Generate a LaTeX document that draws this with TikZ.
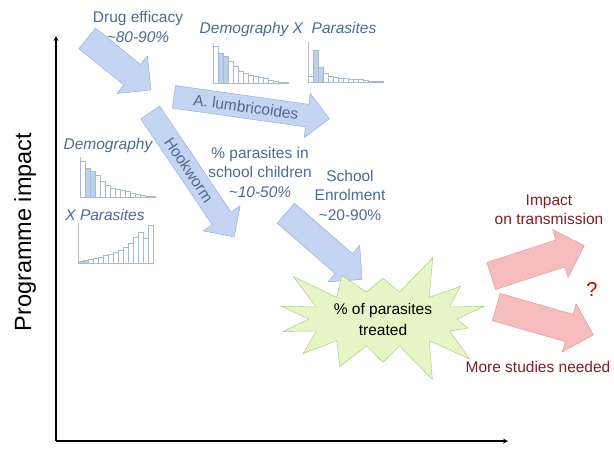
\documentclass[tikz,border=0pt]{standalone}
\usepackage{fontspec}
\setmainfont{Liberation Sans}
\usepackage{tikz}
\usetikzlibrary{arrows}
\usetikzlibrary{shapes.arrows, shapes.symbols}

\definecolor{slate}{HTML}{4E6A92}
\definecolor{arrowfill}{HTML}{C3D5F3}
\definecolor{arrowline}{HTML}{8BA6CF}
\definecolor{pinkfill}{HTML}{F7BCBE}
\definecolor{pinkline}{HTML}{D99597}
\definecolor{darkred}{HTML}{7E1F22}
\definecolor{starfill}{HTML}{E5F5C6}
\definecolor{starline}{HTML}{A5C46E}
\definecolor{barblue}{HTML}{BCD0EC}
\definecolor{barline}{HTML}{A9B9D2}

\tikzset{
  blockarrow/.style={single arrow, draw=arrowline, fill=arrowfill, inner ysep=5.5pt,
    single arrow head extend=11pt, font=\fontsize{15.5}{19}\selectfont, text=slate},
  pinkarrow/.style={single arrow, draw=pinkline, fill=pinkfill, inner ysep=14pt,
    single arrow head extend=11pt},
  bluetext/.style={text=slate, font=\fontsize{15.5}{19.5}\selectfont, align=center},
  redtext/.style={text=darkred, font=\fontsize{15.5}{19}\selectfont, align=center},
  histbar/.style={draw=barline, line width=0.5pt},
  histaxis/.style={draw=black!25, line width=0.5pt}
}

\newcommand{\histo}[2]{%
  \begin{scope}[shift={#1}]
    \draw[histaxis] (0,-40) -- (0,0) -- (76,0);
    \foreach \h/\c [count=\i from 0] in {#2}
      \draw[histbar, fill=\c] (\i*5,0) rectangle ++(5,-\h);
  \end{scope}}

\begin{document}
\begin{tikzpicture}[x=1pt,y=-1pt,>=stealth]
\useasboundingbox (0,0) rectangle (614,448);

% axes
\coordinate (origin) at (56,441);
\coordinate (ytop) at (56,36);
\coordinate (xend) at (508,441);
\draw[->, line width=1.2pt] (origin) -- (ytop);
\draw[->, line width=1.2pt] (origin) -- (xend);
\node[rotate=90, font=\fontsize{23.5}{28}\selectfont] (ylabel) at (25,232) {Programme impact};

% blue arrows
\node[blockarrow, inner ysep=13pt, minimum height=82pt, rotate=-39] (drugarrow) at (114,60) {};
\node[blockarrow, minimum height=157pt, rotate=-8] (ascaris) at (246,107) {A. lumbricoides};
\node[blockarrow, minimum height=150pt, rotate=-56] (hook) at (189,170) {Hookworm};
\node[blockarrow, inner ysep=13pt, minimum height=101pt, rotate=-41] (schoolarrow) at (319,242) {};

% texts
\node[bluetext] (drug) at (138,27) {Drug efficacy\\\textit{\textasciitilde80-90\%}};
\node[bluetext, font=\fontsize{15.5}{19}\itshape] (demopar) at (288,29) {Demography X\ \ Parasites};
\node[bluetext, font=\fontsize{15.5}{19}\itshape] (demog) at (108,145) {Demography};
\node[bluetext, font=\fontsize{15.5}{19}\itshape] (xpar) at (105,215) {X Parasites};
\node[bluetext] (children) at (260,172) {\% parasites in\\school children\\\textit{\textasciitilde10-50\%}};
\node[bluetext] (school) at (350,195) {School\\Enrolment\\\textasciitilde20-90\%};

% histograms
\histo{(213,83)}{37/white,30/barblue,27/barblue,22/white,17/white,12/white,10/white,8/white,7/white,6/white,5/white,3/white,2/white,1/white,1/white}
\histo{(308,82)}{6/white,32/barblue,15/barblue,9/white,6/white,5/white,4/white,4/white,3/white,3/white,3/white,2/white,1/white,1/white,1/white}
\histo{(80,197)}{36/white,29/barblue,26/barblue,22/white,16/white,12/white,9/white,8/white,7/white,6/white,4/white,3/white,2/white,1/white,1/white}
\histo{(78,263)}{2/barblue,3/barblue,4/white,5/white,6/white,8/white,9/white,11/white,13/white,16/white,20/white,26/white,31/white,25/white,38/white}

% star
\node[starburst, draw=starline, fill=starfill, starburst points=14, random starburst=3,
  starburst point height=42pt, minimum width=225pt, minimum height=128pt,
  align=center, font=\fontsize{15.5}{21}\selectfont] (treated) at (383,319) {\% of parasites\\treated};

% red arrows
\node[pinkarrow, minimum height=98pt, rotate=18] (uparrow) at (531,263) {};
\node[pinkarrow, minimum height=101pt, rotate=-16] (downarrow) at (538,319) {};
\node[redtext] (impact) at (549,210) {Impact\\on transmission};
\node[text=red!75!black, font=\fontsize{20}{24}\selectfont] (question) at (592,290) {?};
\node[redtext] (more) at (538,367) {More studies needed};
\end{tikzpicture}
\end{document}
